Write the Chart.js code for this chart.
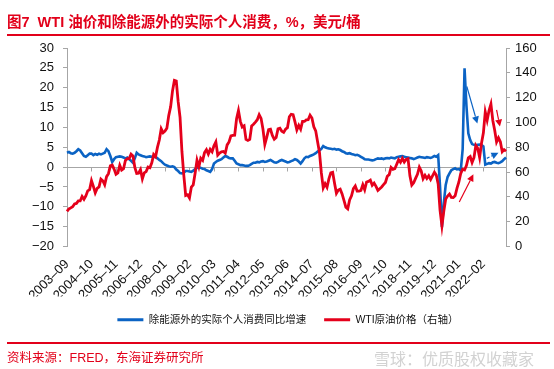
<!DOCTYPE html>
<html><head><meta charset="utf-8">
<script src="https://cdn.jsdelivr.net/npm/chart.js@4"></script>
<style>
body{margin:0;width:554px;height:369px;position:relative;overflow:hidden;background:#fff;font-family:"Liberation Sans","Noto Sans CJK SC",sans-serif}
canvas{position:absolute;left:0;top:0}
.txt{position:absolute;white-space:pre;color:#e2001a}
#title{left:7px;top:10px;font-size:14.5px;font-weight:bold}
#src{left:7px;top:347px;font-size:12.5px}
.rule{position:absolute;left:7px;width:543px;height:1.5px;background:#e2001a}
#wm{position:absolute;left:374px;top:346px;font-size:16px;color:#d2d2d2;white-space:pre}
</style></head>
<body>
<canvas id="chart" width="554" height="369"></canvas>
<div class="txt" id="title">图7  WTI 油价和除能源外的实际个人消费，%，美元/桶</div>
<div class="rule" style="top:34px"></div>
<div class="rule" style="top:342px"></div>
<div class="txt" id="src">资料来源：FRED，东海证券研究所</div>
<div id="wm">雪球：优质股权收藏家</div>
<script>
const BLUE = '#0b63c4', RED = '#e5001b', AXIS = '#a6a6a6';
const TICK_EVERY = 13;

// 月度，2003-09 到 2023-02
const months = [];
for (let y = 2003, m = 9; y < 2023 || (y === 2023 && m <= 2); m++) {
  if (m > 12) { m = 1; y++; if (y === 2023 && m > 2) break; }
  months.push(y + '–' + String(m).padStart(2, '0'));
}

// 除能源外的实际个人消费同比，%（左轴）
const pceExEnergy = [
  3.6, 3.8, 3.5, 3.4,
  3.6, 4.0, 4.5, 4.2, 3.5, 2.8, 2.6, 3.0, 3.4, 3.4, 3.0, 3.3,
  3.1, 3.4, 3.2, 3.4, 3.6, 4.5, 4.0, 2.8, 1.3, 2.0, 2.5, 2.6,
  2.7, 2.6, 2.4, 2.2, 2.4, 2.0, 1.6, 1.1, 2.2, 3.6, 3.2, 3.0,
  2.8, 2.7, 2.5, 2.6, 2.7, 2.6, 2.5, 2.6, 2.2, 1.8, 1.5, 1.0,
  0.6, 0.4, 0.2, 0.1, 0.2, 0.0, -0.6, -1.0, -1.5, -1.6, -1.4, -1.0,
  -1.0, -1.1, -1.2, -0.9, -0.5, -0.2, 0.0, -0.2, -0.4, -0.5, -0.8, -1.0,
  -1.2, -0.5, 0.9, 1.3, 1.6, 1.8, 2.0, 2.4, 2.8, 2.6, 2.3, 2.2,
  2.2, 1.6, 0.9, 0.7, 0.5, 0.5, 0.4, 0.3, 0.3, 0.5, 0.8, 1.1,
  1.1, 1.3, 1.2, 1.4, 1.5, 1.3, 1.4, 1.6, 1.8, 1.5, 1.2, 1.1,
  1.3, 1.6, 1.8, 1.6, 1.4, 1.2, 1.3, 1.5, 1.7, 2.0, 1.8, 1.4,
  0.9, 1.5, 2.2, 2.6, 2.5, 2.8, 3.0, 3.2, 3.5, 3.9, 4.2, 4.6,
  5.3, 5.0, 4.8, 4.7, 4.6, 4.5, 4.6, 4.4, 4.5, 4.3, 4.0, 3.8,
  3.5, 3.4, 3.5, 3.3, 3.2, 3.0, 3.1, 2.9, 2.6, 2.3, 2.0, 1.9,
  1.9, 1.8, 1.7, 1.8, 2.0, 2.2, 2.1, 2.2, 2.0, 2.2, 2.3, 2.2,
  2.4, 2.3, 2.2, 2.5, 2.6, 2.7, 2.8, 2.6, 2.5, 2.4, 2.3, 2.2,
  2.0, 2.2, 2.4, 2.6, 2.5, 2.4, 2.3, 2.5, 2.4, 2.3, 2.5, 2.8,
  2.6, 3.0, -5.0, -15.1, -9.0, -4.5, -2.5, -1.6, -0.8, -0.5, -0.3, -0.6,
  -0.5, -0.8, 4.5, 24.9, 15.5, 8.5, 6.8, 5.8, 5.6, 5.5, 5.6, 5.7,
  5.6, 5.2, 0.6, 0.8, 1.0, 0.9, 1.2, 1.3, 1.1, 1.0, 1.2, 1.5,
  2.0, 2.4
];

// WTI 原油价格，美元/桶（右轴）
const wti = [
  28.3, 30.3, 31.1, 32.1,
  34.3, 34.7, 36.7, 36.7, 40.3, 38.0, 40.8, 44.9, 45.9, 53.1, 48.5, 43.3,
  46.8, 48.0, 54.3, 53.0, 49.8, 56.3, 58.7, 65.0, 65.6, 62.4, 58.3, 59.4,
  65.5, 61.6, 62.7, 69.4, 70.8, 70.9, 74.4, 73.0, 63.8, 58.9, 59.1, 62.0,
  54.5, 59.3, 60.4, 64.0, 63.5, 67.5, 74.1, 72.4, 79.9, 85.8, 94.8, 91.7,
  93.0, 95.4, 105.5, 112.6, 125.4, 133.9, 133.4, 116.7, 104.1, 76.6, 57.3, 41.1,
  41.7, 39.1, 47.9, 49.7, 59.0, 69.6, 64.2, 71.1, 69.4, 75.7, 78.0, 74.5,
  78.3, 76.4, 81.2, 84.3, 73.7, 75.3, 76.3, 76.6, 75.2, 81.9, 84.3, 89.2,
  89.6, 89.7, 102.9, 109.5, 100.9, 96.3, 97.3, 86.3, 85.5, 86.3, 97.2, 98.6,
  100.3, 102.2, 106.2, 103.3, 94.7, 82.3, 87.9, 94.1, 94.5, 89.5, 86.5, 87.9,
  94.8, 95.3, 92.9, 92.0, 94.5, 95.8, 104.6, 106.6, 106.3, 100.5, 93.9, 97.6,
  94.6, 100.8, 100.8, 102.1, 102.2, 105.8, 103.6, 96.5, 93.2, 84.4, 75.8, 59.3,
  47.2, 50.6, 47.8, 54.5, 59.3, 59.8, 50.9, 42.9, 45.5, 46.2, 42.4, 37.2,
  31.7, 30.3, 37.5, 40.8, 46.7, 48.8, 44.7, 44.7, 45.2, 49.8, 45.7, 52.0,
  52.5, 53.5, 49.3, 51.1, 48.5, 45.2, 46.6, 48.0, 49.8, 51.6, 56.6, 57.9,
  63.7, 62.2, 62.7, 66.3, 70.0, 67.9, 71.0, 68.1, 70.2, 70.8, 57.0, 49.5,
  51.4, 54.9, 58.2, 63.9, 60.8, 54.7, 57.4, 54.8, 57.0, 54.0, 57.0, 59.9,
  57.5, 50.5, 29.2, 16.6, 28.6, 38.3, 40.7, 42.3, 39.6, 39.4, 40.9, 47.0,
  52.0, 59.0, 62.3, 61.7, 65.2, 71.4, 72.5, 67.7, 71.6, 81.5, 79.2, 71.7,
  83.2, 91.6, 108.5, 101.8, 109.6, 114.8, 101.6, 93.7, 84.3, 87.6, 84.4, 76.4,
  78.1, 76.8
];

// 图中箭头（月序号, 左轴值）
const arrows = [
  {from:[212.2, 20.3], to:[217.8, 11.0], color:BLUE, dash:[]},
  {from:[222.8, 2.2], to:[229.0, 3.6], color:BLUE, dash:[3,2]},
  {from:[208.2, -8.8], to:[215.7, -1.8], color:RED, dash:[]},
  {from:[228.0, 14.4], to:[229.8, 10.2], color:RED, dash:[]}
];

function drawArrow(ctx, x1, y1, x2, y2, color, dash){
  const a = Math.atan2(y2-y1, x2-x1), L = 7, W = 3.5;
  const bx = x2 - L*Math.cos(a), by = y2 - L*Math.sin(a);
  ctx.save(); ctx.strokeStyle = color; ctx.fillStyle = color; ctx.lineWidth = 1.2; ctx.setLineDash(dash);
  ctx.beginPath(); ctx.moveTo(x1,y1); ctx.lineTo(bx,by); ctx.stroke(); ctx.setLineDash([]);
  ctx.beginPath(); ctx.moveTo(x2,y2);
  ctx.lineTo(bx + W*Math.sin(a), by - W*Math.cos(a)); ctx.lineTo(bx - W*Math.sin(a), by + W*Math.cos(a));
  ctx.closePath(); ctx.fill(); ctx.restore();
}

const marks = {
  id:'marks',
  beforeDatasetsDraw(c){
    const {ctx, scales:{x, y}} = c, y0 = Math.round(y.getPixelForValue(0)) + .5;
    ctx.save(); ctx.strokeStyle = AXIS; ctx.lineWidth = 1; ctx.beginPath();
    months.forEach((m,i)=>{ if(i && i%TICK_EVERY===0){ const px = Math.round(x.getPixelForValue(i)) + .5; ctx.moveTo(px,y0); ctx.lineTo(px,y0+4); } });
    ctx.stroke(); ctx.restore();
  },
  afterDatasetsDraw(c){
    const {ctx, scales:{x, y}} = c;
    arrows.forEach(a => drawArrow(ctx, x.getPixelForValue(a.from[0]), y.getPixelForValue(a.from[1]),
      x.getPixelForValue(a.to[0]), y.getPixelForValue(a.to[1]), a.color, a.dash));
  }
};

Chart.defaults.font.family = '"Liberation Sans","Noto Sans CJK SC",sans-serif';
Chart.defaults.color = '#111';
const tickFont = {size:13};

new Chart(document.getElementById('chart'), {
  type:'line',
  data:{
    labels:months,
    datasets:[
      {label:'除能源外的实际个人消费同比增速', data:pceExEnergy, yAxisID:'y', borderColor:BLUE, backgroundColor:BLUE, borderWidth:2.6, pointRadius:0, order:1},
      {label:'WTI原油价格（右轴）', data:wti, yAxisID:'y1', borderColor:RED, backgroundColor:RED, borderWidth:2.8, pointRadius:0, order:0}
    ]
  },
  options:{
    responsive:false, animation:false,
    layout:{padding:{top:48, left:22, right:0, bottom:34}},
    plugins:{
      tooltip:{enabled:false},
      legend:{position:'bottom', labels:{boxWidth:26, boxHeight:3, padding:18, font:{size:10.5}, color:'#111',
        sort:(a, b) => a.datasetIndex - b.datasetIndex,
        generateLabels:c => Chart.defaults.plugins.legend.labels.generateLabels(c).map(l => ({...l, lineWidth:0}))}}
    },
    scales:{
      x:{grid:{display:false, drawTicks:false}, border:{display:false},
        ticks:{autoSkip:false, minRotation:45, maxRotation:45, padding:10, font:tickFont,
          callback:(v,i) => i%TICK_EVERY===0 ? months[i] : null},
        afterFit:s => { s.height = 50; }},
      y:{position:'left', min:-20, max:30,
        ticks:{stepSize:5, padding:9, font:tickFont, callback:v => v < 0 ? '−' + (-v) : v},
        grid:{color:c => c.tick && c.tick.value === 0 ? AXIS : 'rgba(0,0,0,0)', tickColor:AXIS, tickLength:4},
        border:{color:AXIS},
        afterFit:s => { s.width = 45; }},
      y1:{position:'right', min:0, max:160,
        ticks:{stepSize:20, padding:5, font:tickFont},
        grid:{drawOnChartArea:false, tickColor:AXIS, tickLength:4},
        border:{color:AXIS},
        afterFit:s => { s.width = 48; }}
    }
  },
  plugins:[marks]
});
</script>
</body></html>
